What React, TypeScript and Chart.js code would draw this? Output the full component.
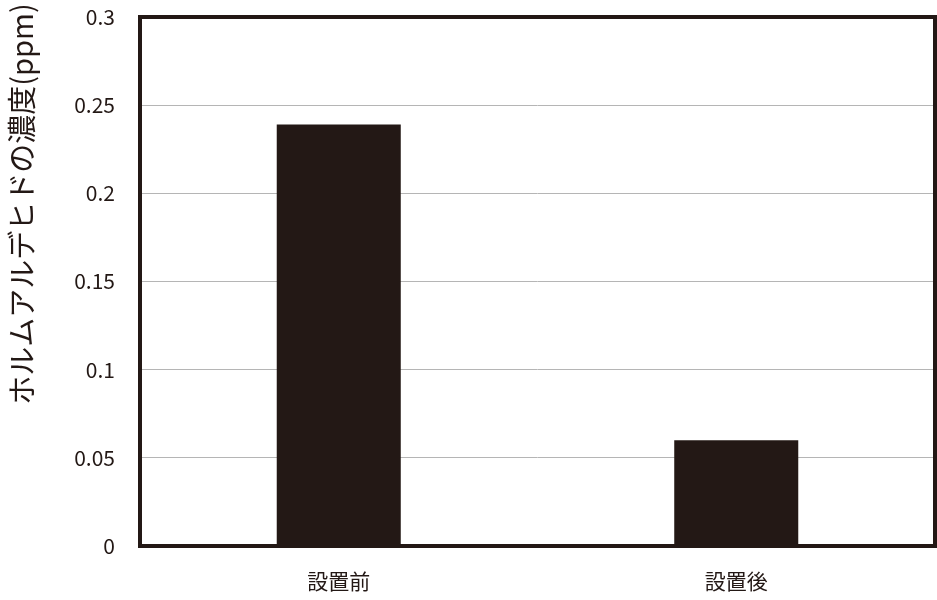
import React, { useEffect, useRef } from 'react'
import { Chart, registerables } from 'chart.js'

Chart.register(...registerables)

const categories = ['設置前', '設置後']
const concentration = [0.239, 0.06]
const yTicks = [0, 0.05, 0.1, 0.15, 0.2, 0.25, 0.3]
const yTitle = 'ホルムアルデヒドの濃度(ppm)'

const ink = '#231815'
const font = "'Noto Sans CJK JP', 'Noto Sans', sans-serif"

const framePlugin = {
	id: 'frame',
	afterDraw(chart: Chart) {
		const { ctx, chartArea } = chart
		ctx.save()
		ctx.strokeStyle = ink
		ctx.lineWidth = 4
		ctx.strokeRect(chartArea.left, chartArea.top, chartArea.right - chartArea.left, chartArea.bottom - chartArea.top)
		// rotated axis title, sits higher than the plot centre in the original
		ctx.translate(22, 204)
		ctx.rotate(-Math.PI / 2)
		ctx.fillStyle = ink
		ctx.font = `29px ${font}`
		ctx.textAlign = 'center'
		ctx.textBaseline = 'middle'
		ctx.fillText(yTitle, 0, 0)
		ctx.restore()
	},
}

function App() {
	const refCanvas = useRef<HTMLCanvasElement>(null)

	useEffect(() => {
		document.body.style.margin = '0'
		let chart: Chart | undefined
		const context = refCanvas.current?.getContext('2d')
		if (context) {
			chart = new Chart(context, {
				type: 'bar',
				data: {
					labels: categories,
					datasets: [
						{
							data: concentration,
							backgroundColor: ink,
							borderWidth: 0,
							barPercentage: 0.312,
							categoryPercentage: 1,
						},
					],
				},
				options: {
					animation: false,
					responsive: false,
					devicePixelRatio: 1,
					layout: { padding: { top: 17, right: 2, left: 0, bottom: 0 } },
					plugins: {
						legend: { display: false },
						tooltip: { enabled: false },
					},
					scales: {
						x: {
							grid: { display: false, drawTicks: false },
							border: { display: false },
							ticks: {
								color: ink,
								padding: 22,
								font: { family: font, size: 21 },
							},
							afterFit(scale) {
								scale.height = 54
								scale.paddingLeft = 0
								scale.paddingRight = 0
							},
						},
						y: {
							min: 0,
							max: 0.3,
							afterBuildTicks(scale) {
								scale.ticks = yTicks.map((v) => ({ value: v }))
							},
							grid: { color: '#b5b5b5', lineWidth: 1, drawTicks: false },
							border: { display: false },
							ticks: {
								color: ink,
								padding: 25,
								font: { family: font, size: 21 },
								callback: (v) => String(Number(v)),
							},
							afterFit(scale) {
								scale.width = 140
								scale.paddingTop = 0
								scale.paddingBottom = 0
							},
						},
					},
				},
				plugins: [framePlugin],
			})
		}
		return () => chart?.destroy()
	}, [])

	return (
		<div style={{ width: 937, height: 600, background: '#fff' }}>
			<canvas aria-label="formaldehyde-chart" ref={refCanvas} width={937} height={600} />
		</div>
	)
}

export default App
